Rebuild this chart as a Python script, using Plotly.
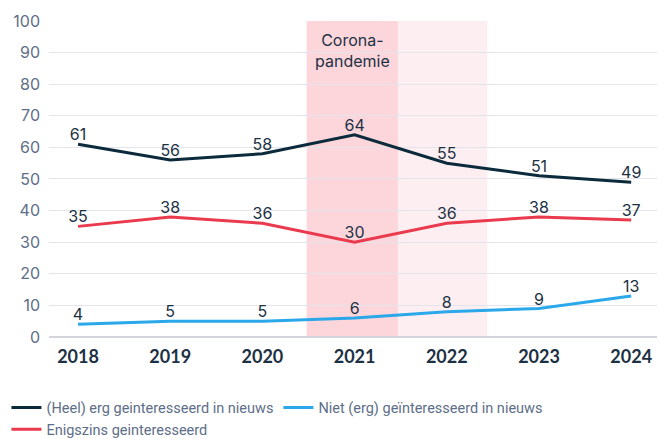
import plotly.graph_objects as go

years = ["2018", "2019", "2020", "2021", "2022", "2023", "2024"]
heel_erg = [61, 56, 58, 64, 55, 51, 49]
enigszins = [35, 38, 36, 30, 36, 38, 37]
niet_erg = [4, 5, 5, 6, 8, 9, 13]

names = ["(Heel) erg geinteresseerd in nieuws",
         "Niet (erg) geïnteresseerd in nieuws",
         "Enigszins geinteresseerd"]
colors = ["#0b2a3c", "#2aa8ea", "#ea3a4e"]
series = [heel_erg, niet_erg, enigszins]

x = list(range(len(years)))
text_color = "#1d3144"
axis_color = "#5d6e88"
font_family = "Inter, Lato, 'Open Sans', sans-serif"

fig = go.Figure()
for name, col, vals in zip(names, colors, series):
    fig.add_trace(go.Scatter(
        x=x, y=vals, name=name, mode="lines+text",
        line=dict(color=col, width=3),
        text=[str(v) for v in vals], textposition="top center",
        textfont=dict(size=16, color=text_color, family=font_family),
        cliponaxis=False,
    ))

# Corona band shading
fig.add_shape(type="rect", xref="x", yref="y", x0=2.48, x1=3.47, y0=0, y1=100,
              fillcolor="#fcd6db", line_width=0, layer="below")
fig.add_shape(type="rect", xref="x", yref="y", x0=3.47, x1=4.44, y0=0, y1=100,
              fillcolor="#fdeff1", line_width=0, layer="below")
fig.add_annotation(x=2.975, y=90.5, xref="x", yref="y", text="Corona-<br>pandemie",
                   showarrow=False, font=dict(size=16, color=text_color, family=font_family),
                   yanchor="middle")

fig.update_layout(
    width=661, height=439,
    margin=dict(l=49, r=4, t=20, b=102, autoexpand=False),
    paper_bgcolor="white", plot_bgcolor="white",
    font=dict(family=font_family),
    showlegend=True,
    legend=dict(orientation="h", x=-0.07, xanchor="left", y=-0.172, yanchor="top",
                font=dict(size=14.5, color=axis_color, family="Roboto, sans-serif"),
                itemwidth=30, tracegroupgap=0, traceorder="normal"),
    xaxis=dict(range=[-0.315, 6.28], tickmode="array", tickvals=x, ticktext=years,
               showgrid=False, zeroline=False, showline=False, ticks="",
               automargin=False, ticklabelstandoff=7,
               tickfont=dict(size=18, color=text_color, family="Lato, Inter, sans-serif", weight="bold")),
    yaxis=dict(range=[0, 100.3], tickvals=list(range(0, 101, 10)),
               showgrid=True, gridcolor="#e3e4ec", gridwidth=1,
               zeroline=True, zerolinecolor="#d4d5dc", zerolinewidth=2,
               ticks="", ticklabelstandoff=8, automargin=False,
               tickfont=dict(size=16, color=axis_color, family=font_family)),
)

fig.write_html("out.html", config={"displayModeBar": False},
               post_script="document.body.style.margin='0';document.body.style.overflow='hidden';")
